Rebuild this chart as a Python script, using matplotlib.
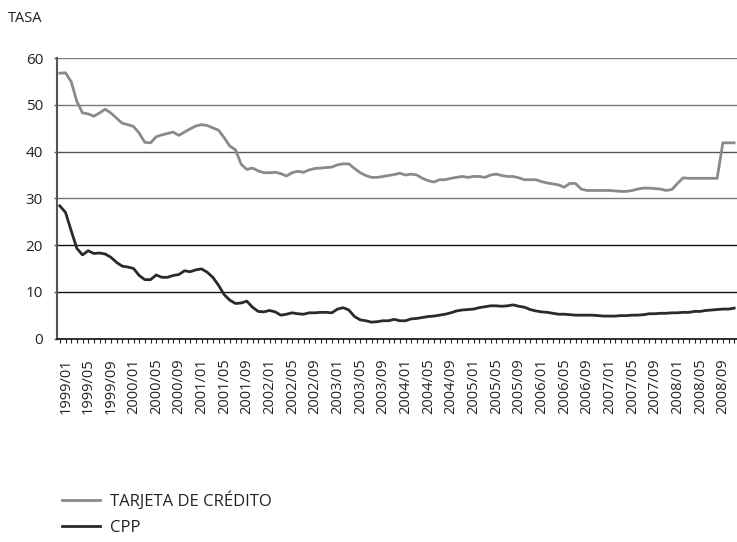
import matplotlib
matplotlib.use("Agg")
import matplotlib.pyplot as plt
import matplotlib.transforms as mtransforms
import numpy as np

# Monthly periods 1999/01 .. 2008/12
months = [f"{y}/{m:02d}" for y in range(1999, 2009) for m in range(1, 13)]

tarjeta = [56.8, 56.9, 55.0, 50.8, 48.3, 48.1, 47.6, 48.3, 49.1, 48.3, 47.2, 46.1,
           45.8, 45.4, 44.0, 42.0, 41.9, 43.2, 43.6, 43.9, 44.2, 43.5, 44.2, 44.9,
           45.5, 45.8, 45.6, 45.1, 44.6, 43.0, 41.2, 40.4, 37.3, 36.2, 36.5, 35.9,
           35.5, 35.5, 35.6, 35.3, 34.8, 35.5, 35.8, 35.6, 36.1, 36.4, 36.5, 36.6,
           36.7, 37.2, 37.4, 37.4, 36.4, 35.5, 34.9, 34.5, 34.5, 34.7, 34.9, 35.1,
           35.4, 35.0, 35.2, 35.0, 34.3, 33.8, 33.5, 34.0, 34.0, 34.3, 34.5, 34.7,
           34.5, 34.7, 34.7, 34.5, 35.0, 35.2, 34.9, 34.7, 34.7, 34.4, 34.0, 34.0,
           34.0, 33.6, 33.3, 33.1, 32.9, 32.4, 33.2, 33.2, 32.0, 31.7, 31.7, 31.7,
           31.7, 31.7, 31.6, 31.5, 31.5, 31.7, 32.0, 32.2, 32.2, 32.1, 32.0, 31.7,
           31.9, 33.2, 34.4, 34.3, 34.3, 34.3, 34.3, 34.3, 34.3, 41.9, 41.9, 41.9]

cpp = [28.4, 27.0, 23.1, 19.3, 17.9, 18.8, 18.2, 18.3, 18.1, 17.4, 16.3, 15.5,
       15.3, 15.0, 13.5, 12.6, 12.6, 13.6, 13.1, 13.1, 13.5, 13.7, 14.5, 14.3,
       14.7, 14.9, 14.2, 13.1, 11.4, 9.4, 8.2, 7.5, 7.6, 8.0, 6.7, 5.8,
       5.7, 6.0, 5.7, 5.0, 5.2, 5.5, 5.3, 5.2, 5.5, 5.5, 5.6, 5.6,
       5.5, 6.3, 6.6, 6.1, 4.7, 4.0, 3.8, 3.5, 3.6, 3.8, 3.8, 4.1,
       3.8, 3.8, 4.2, 4.3, 4.5, 4.7, 4.8, 5.0, 5.2, 5.5, 5.9, 6.1,
       6.2, 6.3, 6.6, 6.8, 7.0, 7.0, 6.9, 7.0, 7.2, 6.9, 6.7, 6.2,
       5.9, 5.7, 5.6, 5.4, 5.2, 5.2, 5.1, 5.0, 5.0, 5.0, 5.0, 4.9,
       4.8, 4.8, 4.8, 4.9, 4.9, 5.0, 5.0, 5.1, 5.3, 5.3, 5.4, 5.4,
       5.5, 5.5, 5.6, 5.6, 5.8, 5.8, 6.0, 6.1, 6.2, 6.3, 6.3, 6.5]

series_labels = ["TARJETA DE CRÉDITO", "CPP"]
y_ticks = [0, 10, 20, 30, 40, 50, 60]

FONT = ["Open Sans", "DejaVu Sans"]
plt.rcParams["font.family"] = FONT

W, H = 737, 542
fig = plt.figure(figsize=(W / 100, H / 100), dpi=100)
ax = fig.add_axes([57 / W, 1 - 338.5 / H, 1 - 57 / W, (338.5 - 58.3) / H])

x = np.arange(len(months))
l1, = ax.plot(x, tarjeta, color="#8a8a8a", lw=2.0, solid_joinstyle="round")
l2, = ax.plot(x, cpp, color="#2a2a2a", lw=2.0, solid_joinstyle="round")

ax.set_xlim(-0.5, len(months) - 0.5)
ax.set_ylim(0, 60)
ax.set_yticks(y_ticks)
ax.set_yticklabels([str(v) for v in y_ticks], fontsize=11, color="#222222")
ax.tick_params(axis="y", length=2, width=1, color="#555555", pad=8)

ax.yaxis.grid(True)
grid_cols = {10: "#111111", 20: "#111111", 30: "#7a7a7a", 40: "#555555",
             50: "#7a7a7a", 60: "#7a7a7a"}
for v, gl in zip(y_ticks, ax.get_ygridlines()):
    gl.set_color(grid_cols.get(v, "#111111"))
    gl.set_linewidth(1.0)
ax.set_axisbelow(True)

tick_idx = list(range(0, len(months) - 3, 4))
ax.set_xticks(x, minor=True)
ax.set_xticks(tick_idx)
ax.set_xticklabels([months[i] for i in tick_idx], rotation=90, fontsize=10.5,
                   color="#222222", va="top", ha="center")
ax.tick_params(axis="x", which="both", length=3, width=0.8, color="#222222", pad=11)
offset = mtransforms.ScaledTranslation(6 / 100, 0, fig.dpi_scale_trans)
for lab in ax.get_xticklabels():
    lab.set_transform(lab.get_transform() + offset)

for s in ["top", "right"]:
    ax.spines[s].set_visible(False)
ax.spines["left"].set_color("#555555")
ax.spines["left"].set_linewidth(1.5)
ax.spines["bottom"].set_color("#111111")
ax.spines["bottom"].set_linewidth(1.2)

fig.text(8 / W, 1 - 18 / H, "TASA", fontsize=10.5, color="#222222",
         va="center", ha="left")

fig.legend([l1, l2], series_labels, loc="upper left",
           bbox_to_anchor=(62 / W, 1 - 491 / H), frameon=False,
           borderpad=0, borderaxespad=0,
           fontsize=12, handlelength=2.3, handletextpad=0.6, labelspacing=0.6,
           labelcolor="#222222")

fig.savefig("out.png", dpi=100)
